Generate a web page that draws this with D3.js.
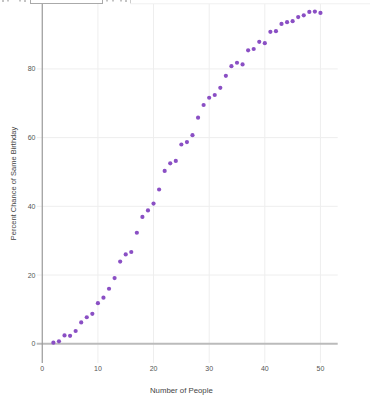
<!DOCTYPE html>
<html>
<head>
<meta charset="utf-8">
<script src="https://cdn.jsdelivr.net/npm/d3@7"></script>
<style>
  body { margin: 0; background: #fff; }
  svg { display: block; font-family: "Liberation Sans", Arial, sans-serif; }
</style>
</head>
<body>
<svg id="chart" width="370" height="400"></svg>
<script>
// group sizes and simulated percent chance that two share a birthday
const people = [2, 3, 4, 5, 6, 7, 8, 9, 10, 11, 12, 13, 14, 15, 16, 17, 18, 19, 20, 21, 22, 23, 24, 25,
    26, 27, 28, 29, 30, 31, 32, 33, 34, 35, 36, 37, 38, 39, 40, 41, 42, 43, 44, 45, 46, 47, 48, 49, 50];
const percentSame = [0.3, 0.7, 2.4, 2.3, 3.7, 6.2, 7.7, 8.7, 11.8, 13.4, 16.0, 19.1, 23.9, 26.0, 26.7, 32.3,
    36.9, 38.8, 40.8, 44.9, 50.3, 52.5, 53.2, 58.0, 58.7, 60.7, 65.8, 69.5, 71.6, 72.4, 74.5, 78.0,
    80.8, 81.8, 81.3, 85.4, 85.8, 87.9, 87.5, 90.8, 91.0, 93.1, 93.6, 93.9, 95.1, 95.6, 96.6, 96.7, 96.3];
const xTicks = [0, 10, 20, 30, 40, 50];
const yTicks = [0, 20, 40, 60, 80];

const svg = d3.select('#chart');
const plot = { left: 36.7, right: 337.7, top: 4, bottom: 363 };

const x = d3.scaleLinear().domain([-1, 53.1]).range([plot.left, plot.right]);
const y = d3.scaleLinear().domain([-5.62, 98.9]).range([plot.bottom, plot.top]);

// cut-off control above the chart
const ui = svg.append('g').attr('fill', 'none').attr('stroke', '#aaa');
ui.append('rect').attr('x', 30.5).attr('y', -20).attr('width', 72).attr('height', 23.5);
ui.append('path').attr('d', 'M130.5,0V3.5').attr('stroke', '#ccc');
ui.append('path').attr('d', 'M130.5,3.8H370').attr('stroke', '#f0f0f0');
ui.append('path').attr('d', 'M3,0V2M8,0V1.5M20,0V1.5M25,0V2M107,0V1.5M113,0V1.5M121,0V1.5M126,0V2')
    .attr('stroke', '#888');

// gridlines
const grid = svg.append('g').attr('stroke', '#eee').attr('stroke-width', 1);
grid.selectAll('.gx')
    .data(xTicks.filter(d => d !== 0))
    .join('line')
    .attr('x1', d => x(d)).attr('x2', d => x(d))
    .attr('y1', plot.top).attr('y2', plot.bottom);
grid.selectAll('.gy')
    .data(yTicks.filter(d => d !== 0))
    .join('line')
    .attr('x1', plot.left).attr('x2', plot.right)
    .attr('y1', d => y(d)).attr('y2', d => y(d));

// zero lines
svg.append('line')
    .attr('x1', plot.left).attr('x2', plot.right)
    .attr('y1', y(0)).attr('y2', y(0))
    .attr('stroke', '#bbb').attr('stroke-width', 2);
svg.append('line')
    .attr('x1', x(0)).attr('x2', x(0))
    .attr('y1', plot.top).attr('y2', plot.bottom)
    .attr('stroke', '#999').attr('stroke-width', 1.2);

// tick labels
svg.append('g').selectAll('text')
    .data(xTicks)
    .join('text')
    .attr('x', d => x(d))
    .attr('y', 371)
    .attr('text-anchor', 'middle')
    .attr('font-size', 7)
    .attr('fill', '#555')
    .text(d => d);

svg.append('g').selectAll('text')
    .data(yTicks)
    .join('text')
    .attr('x', 35.5)
    .attr('y', d => y(d) + 2.5)
    .attr('text-anchor', 'end')
    .attr('font-size', 7)
    .attr('fill', '#555')
    .text(d => d);

// axis titles
svg.append('text')
    .attr('x', x(25))
    .attr('y', 393)
    .attr('text-anchor', 'middle')
    .attr('font-size', 7.8)
    .attr('fill', '#444')
    .text('Number of People');

svg.append('text')
    .attr('transform', `translate(16,${(plot.top + plot.bottom) / 2}) rotate(-90)`)
    .attr('text-anchor', 'middle')
    .attr('font-size', 7.5)
    .attr('fill', '#444')
    .text('Percent Chance of Same Birthday');

// points
svg.append('g').selectAll('circle')
    .data(people.map((p, i) => ({ p, v: percentSame[i] })))
    .join('circle')
    .attr('cx', d => x(d.p))
    .attr('cy', d => y(d.v))
    .attr('r', 2.1)
    .attr('fill', '#8a4fc4');
</script>
</body>
</html>
